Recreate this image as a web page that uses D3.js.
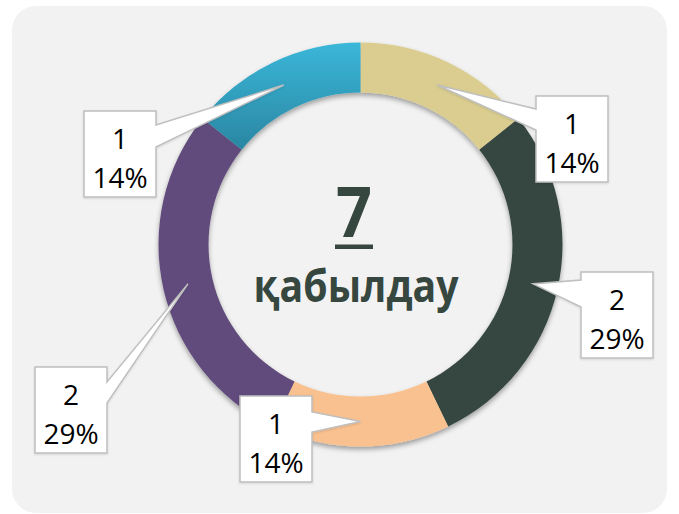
<!DOCTYPE html>
<html>
<head>
<meta charset="utf-8">
<script src="https://cdn.jsdelivr.net/npm/d3@7"></script>
<style>
  html, body { margin: 0; padding: 0; background: #ffffff; }
  svg { display: block; }
</style>
</head>
<body>
<svg id="chart" width="679" height="514"></svg>
<script>
// Admissions split into five groups, drawn clockwise from 12 o'clock
const categories = ["A", "B", "C", "D", "E"];
const values = [1, 2, 1, 2, 1];
const colors = ["#dacd8f", "#36473f", "#f9c18f", "#604b7b", "url(#tealGrad)"];
const centerNumberLabel = "7";
const centerWordLabel = "қабылдау";

// Callout boxes: top-left corner, side the pointer leaves from, pointer base offsets
const callouts = [
  { x: 536, y: 96,  side: "left",  a1: 13, a2: 34 },
  { x: 581, y: 272, side: "left",  a1: 8,  a2: 35 },
  { x: 240, y: 396, side: "right", a1: 16, a2: 36 },
  { x: 35,  y: 367, side: "right", a1: 15, a2: 36 },
  { x: 84,  y: 111, side: "right", a1: 14, a2: 36 }
];

const W = 679, H = 514;
const cx = 360.5, cy = 244.5;
const outerR = 202, innerR = 152;
const boxW = 72, boxH = 86;

const svg = d3.select("#chart");
const defs = svg.append("defs");

const shadow = defs.append("filter").attr("id", "ringShadow")
  .attr("x", "-20%").attr("y", "-20%").attr("width", "140%").attr("height", "140%");
shadow.append("feDropShadow").attr("dx", 0).attr("dy", 3).attr("stdDeviation", 2.5)
  .attr("flood-color", "#000").attr("flood-opacity", 0.35);

const boxShadow = defs.append("filter").attr("id", "boxShadow")
  .attr("x", "-20%").attr("y", "-20%").attr("width", "140%").attr("height", "140%");
boxShadow.append("feDropShadow").attr("dx", 0).attr("dy", 1).attr("stdDeviation", 1)
  .attr("flood-color", "#000").attr("flood-opacity", 0.12);

const tg = defs.append("linearGradient").attr("id", "tealGrad")
  .attr("x1", 0).attr("y1", 0).attr("x2", 0).attr("y2", 1);
tg.append("stop").attr("offset", "0%").attr("stop-color", "#3bb7d9");
tg.append("stop").attr("offset", "100%").attr("stop-color", "#2a86a2");

// Panel background
svg.append("rect")
  .attr("x", 12).attr("y", 6).attr("width", 655).attr("height", 507)
  .attr("rx", 24).attr("ry", 24)
  .attr("fill", "#f2f2f2");

const pie = d3.pie().sort(null).value(d => d)
  .startAngle(0).endAngle(2 * Math.PI);
const arcs = pie(values);
const arc = d3.arc().innerRadius(innerR).outerRadius(outerR);
const midArc = d3.arc().innerRadius((innerR + outerR) / 2).outerRadius((innerR + outerR) / 2);

const g = svg.append("g").attr("transform", `translate(${cx},${cy})`);

g.append("g").attr("filter", "url(#ringShadow)")
  .selectAll("path")
  .data(arcs)
  .join("path")
  .attr("d", arc)
  .attr("fill", (d, i) => colors[i]);

// Centre caption
const textColor = "#36473f";
svg.append("text")
  .attr("x", 354).attr("y", 237)
  .attr("text-anchor", "middle")
  .attr("font-family", "'Open Sans', sans-serif")
  .attr("font-weight", 700)
  .attr("font-size", 69)
  .attr("textLength", 36)
  .attr("lengthAdjust", "spacingAndGlyphs")
  .attr("fill", textColor)
  .text(centerNumberLabel);
svg.append("rect")
  .attr("x", 335).attr("y", 244.5).attr("width", 38).attr("height", 4.5)
  .attr("fill", textColor);
svg.append("text")
  .attr("x", 356).attr("y", 302)
  .attr("text-anchor", "middle")
  .attr("font-family", "'Open Sans', sans-serif")
  .attr("font-weight", 700)
  .attr("font-size", 44)
  .attr("textLength", 205)
  .attr("lengthAdjust", "spacingAndGlyphs")
  .attr("fill", textColor)
  .text(centerWordLabel);

// Data callouts
const total = d3.sum(values);
const labels = svg.append("g");
arcs.forEach((d, i) => {
  const c = callouts[i];
  const [tx, ty] = midArc.centroid(d);
  const tipX = cx + tx, tipY = cy + ty;
  const x0 = c.x, y0 = c.y, x1 = c.x + boxW, y1 = c.y + boxH;
  const p = d3.path();
  if (c.side === "left") {
    p.moveTo(x0, y0); p.lineTo(x1, y0); p.lineTo(x1, y1); p.lineTo(x0, y1);
    p.lineTo(x0, y0 + c.a2); p.lineTo(tipX, tipY); p.lineTo(x0, y0 + c.a1);
  } else {
    p.moveTo(x0, y0); p.lineTo(x1, y0); p.lineTo(x1, y0 + c.a1);
    p.lineTo(tipX, tipY); p.lineTo(x1, y0 + c.a2); p.lineTo(x1, y1); p.lineTo(x0, y1);
  }
  p.closePath();
  labels.append("path")
    .attr("d", p.toString())
    .attr("fill", "#ffffff")
    .attr("stroke", "#bfbfbf")
    .attr("stroke-width", 1.5)
    .attr("stroke-linejoin", "miter")
    .attr("filter", "url(#boxShadow)");
  const pct = Math.round(d.data / total * 100) + "%";
  const tx0 = x0 + boxW / 2;
  [String(d.data), pct].forEach((s, k) => {
    labels.append("text")
      .attr("x", tx0).attr("y", y0 + 38 + k * 39)
      .attr("text-anchor", "middle")
      .attr("font-family", "'Open Sans', sans-serif")
      .attr("font-size", 28)
      .attr("fill", "#000")
      .text(s);
  });
});
</script>
</body>
</html>
